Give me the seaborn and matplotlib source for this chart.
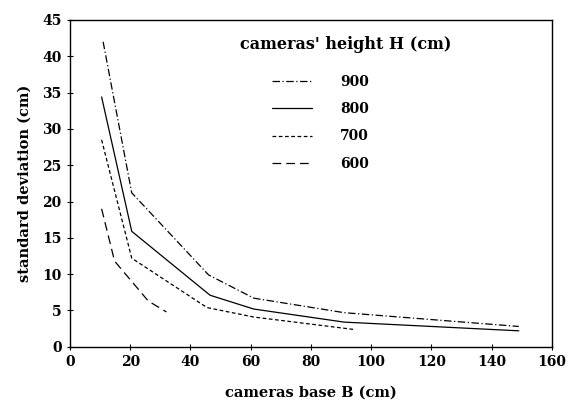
import matplotlib
matplotlib.use("Agg")
import matplotlib.pyplot as plt
import seaborn as sns
import pandas as pd

# values
base_900 = [11, 20.5, 46, 61, 91, 149]
std_900 = [42.0, 21.2, 9.9, 6.7, 4.7, 2.8]
base_800 = [10.5, 20.5, 46.5, 61, 91, 149]
std_800 = [34.4, 15.9, 7.1, 5.2, 3.4, 2.2]
base_700 = [10.5, 20.5, 45.5, 61, 94]
std_700 = [28.5, 12.2, 5.4, 4.1, 2.4]
base_600 = [10.5, 14.8, 26, 32]
std_600 = [19.0, 11.8, 6.3, 4.8]
heights = ["900", "800", "700", "600"]

frames = []
for h, xs, ys in zip(heights, [base_900, base_800, base_700, base_600],
                     [std_900, std_800, std_700, std_600]):
    frames.append(pd.DataFrame({"B": xs, "sd": ys, "H": h}))
df = pd.concat(frames, ignore_index=True)

sns.set_theme(style="ticks")
plt.rcParams["font.family"] = ["DejaVu Serif"]
plt.rcParams["font.weight"] = "bold"
plt.rcParams["text.color"] = "black"
plt.rcParams["axes.labelcolor"] = "black"

fig = plt.figure(figsize=(5.69, 4.08), dpi=100)
ax = fig.add_axes([0.123, 0.150, 0.847, 0.801])

dashes = {"900": (6, 2, 1, 2), "800": "", "700": (3, 2), "600": (7, 4)}
sns.lineplot(data=df, x="B", y="sd", style="H", style_order=heights,
             dashes=dashes, color="black", linewidth=0.9, sort=False,
             estimator=None, ax=ax)

ax.set_xlim(0, 160)
ax.set_ylim(0, 45)
ax.set_xticks(range(0, 161, 20))
ax.set_yticks(range(0, 46, 5))
ax.tick_params(direction="inout", length=5, width=0.8, labelsize=10, colors="black")
for s in ax.spines.values():
    s.set_visible(True)
    s.set_color("black")
    s.set_linewidth(1.0)

ax.set_xlabel("cameras base B (cm)", fontsize=10.5, fontweight="bold", labelpad=12)
ax.set_ylabel("standard deviation (cm)", fontsize=10.5, fontweight="bold", labelpad=8)

# legend title sits left of the indented entries, as in the original figure
fig.text(0.422, 0.890, "cameras' height H (cm)", fontsize=11.5, fontweight="bold",
         va="center", ha="left")
leg = ax.legend(frameon=False, loc="upper left", bbox_to_anchor=(0.478, 0.816),
                bbox_transform=fig.transFigure, borderpad=0, borderaxespad=0,
                handlelength=2.9, handletextpad=2.0, labelspacing=0.95, fontsize=10)
for t in leg.get_texts():
    t.set_fontweight("bold")
    t.set_color("black")

fig.savefig("out.png", dpi=100)
